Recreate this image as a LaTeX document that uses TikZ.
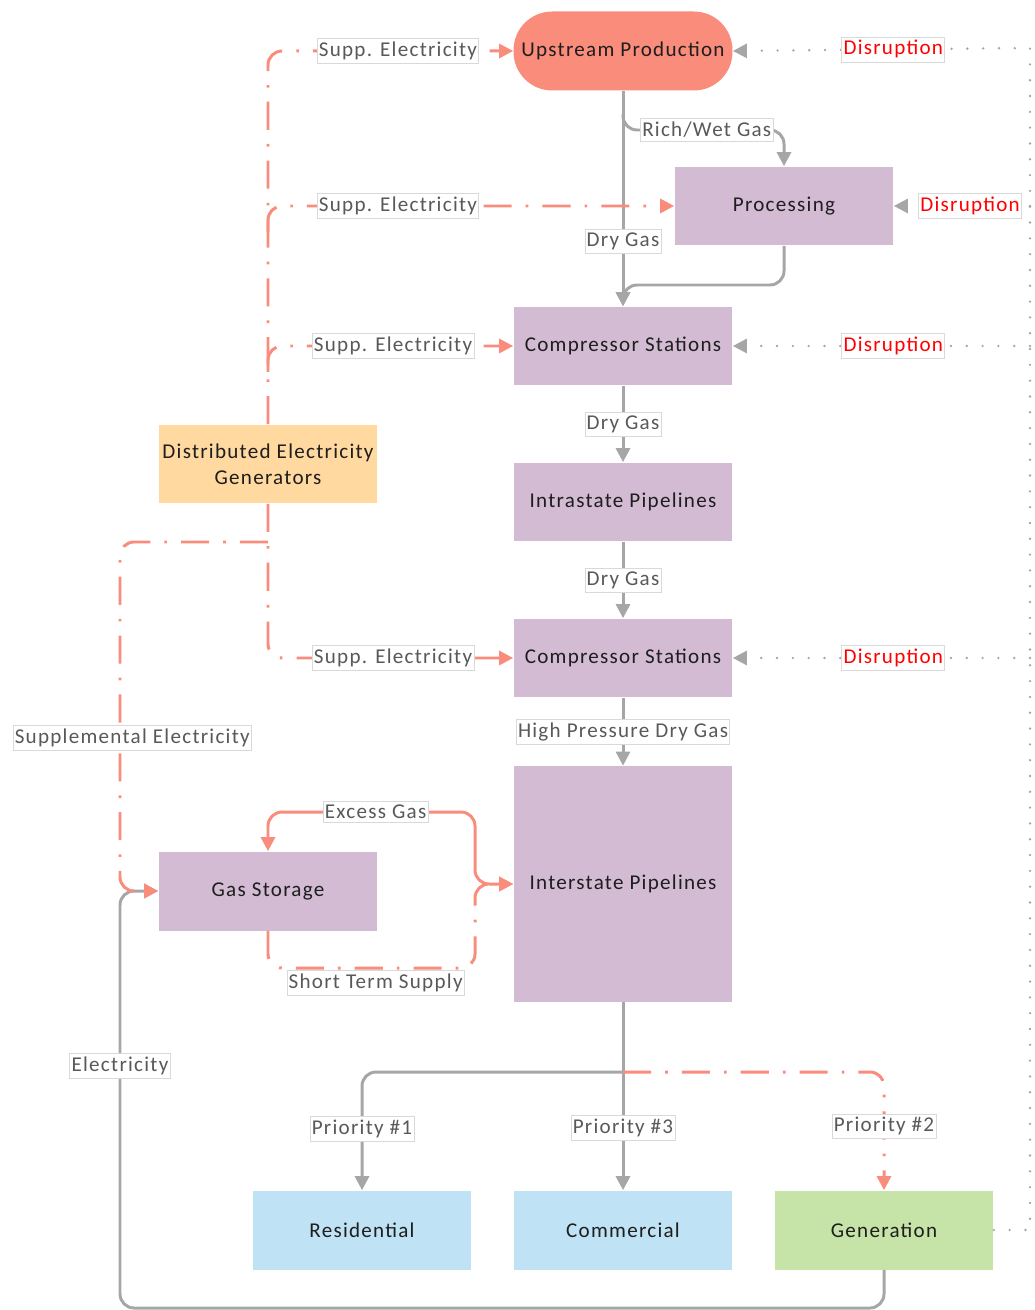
\documentclass[tikz,border=0pt]{standalone}
\usepackage{fontspec}
\setmainfont{Carlito}[LetterSpace=6]
\usetikzlibrary{arrows.meta}
\definecolor{salmon}{HTML}{FA8C7C}
\definecolor{lilac}{HTML}{D3BBD3}
\definecolor{peach}{HTML}{FFD9A0}
\definecolor{sky}{HTML}{C0E2F5}
\definecolor{leaf}{HTML}{C6E4A8}
\definecolor{pipe}{HTML}{A6A6A6}
\definecolor{ink}{HTML}{1E1E1E}
\definecolor{note}{HTML}{595959}

\begin{document}
\begin{tikzpicture}[x=0.02cm, y=-0.02cm,
	every node/.style={font=\fontsize{12}{15}\selectfont, text=ink},
	box/.style={fill=lilac, minimum width=4.38cm, minimum height=1.58cm, inner sep=0pt, align=center},
	pill/.style={box, fill=salmon, rounded corners=22pt},
	lbl/.style={fill=white, draw=gray!30, line width=0.4pt, solid, sharp corners, text=note, inner xsep=1pt, inner ysep=2pt},
	dlbl/.style={lbl, text=red},
	tip/.style={-{Triangle[length=8pt,width=8pt]}},
	gas/.style={draw=pipe, line width=1.7pt, rounded corners=8pt, tip},
	elec/.style={draw=salmon, line width=1.7pt, rounded corners=8pt, dash pattern=on 16pt off 8pt on 1.5pt off 8pt, tip},
	dis/.style={draw=pipe, line width=1.5pt, line cap=round, dash pattern=on 0pt off 9pt, tip}]
	\useasboundingbox (0,0) rectangle (1034,1310);

	% Boxes
	\node[pill] (up) at (623,51) {Upstream Production};
	\node[box] (proc) at (784,206) {Processing};
	\node[box] (cs1) at (623,346) {Compressor Stations};
	\node[box] (intra) at (623,502) {Intrastate Pipelines};
	\node[box] (cs2) at (623,658) {Compressor Stations};
	\node[box, minimum height=4.72cm] (inter) at (623,884) {Interstate Pipelines};
	\node[box, fill=peach] (deg) at (268,464) {Distributed Electricity\\Generators};
	\node[box] (stor) at (268,891) {Gas Storage};
	\node[box, fill=sky] (res) at (362,1230) {Residential};
	\node[box, fill=sky] (com) at (623,1230) {Commercial};
	\node[box, fill=leaf] (gen) at (884,1230) {Generation};

	% Junctions
	\coordinate (wet) at (623,114);
	\coordinate (trunkA) at (268,232);
	\coordinate (trunkB) at (268,372);
	\coordinate (trunkC) at (268,542);
	\coordinate (split) at (623,1072);
	\coordinate (corner) at (120,1308);
	\coordinate (rail) at (1030,48);

	% Gas
	\draw[gas] (up) -- node[lbl, pos=0.7] {Dry Gas} (cs1);
	\draw[gas] (wet) |- node[lbl, pos=0.76] {Rich/Wet Gas} (proc.north |- 0,130) -- (proc.north);
	\draw[gas] (proc.south) |- (cs1.north |- 0,285) -- (cs1.north);
	\draw[gas] (cs1) -- node[lbl] {Dry Gas} (intra);
	\draw[gas] (intra) -- node[lbl] {Dry Gas} (cs2);
	\draw[gas] (cs2) -- node[lbl] {High Pressure Dry Gas} (inter);
	\draw[gas] (inter) -- node[lbl, pos=0.67] {Priority \#3} (com);
	\draw[gas] (split) -| node[lbl, pos=0.74] {Priority \#1} (res.north);
	\draw[elec] (split) -| node[lbl, pos=0.73] {Priority \#2} (gen.north);
	\draw[gas] (gen.south) |- (corner) -- node[lbl, pos=0.58] {Electricity} (corner |- stor.west) -- (stor.west);

	% Storage
	\draw[draw=salmon, line width=1.7pt, rounded corners=8pt, {Triangle[length=8pt,width=8pt]}-{Triangle[length=8pt,width=8pt]}]
		(stor.north) |- node[lbl, pos=0.76] {Excess Gas} (475,812) |- (inter.west);
	\draw[elec] (stor.south) |- node[lbl, pos=0.76, below=1pt] {Short Term Supply} (475,968) |- (inter.west);

	% Electricity
	\draw[elec] (deg.north) |- node[lbl, pos=0.765] {Supp. Electricity} (up.west);
	\draw[elec] (trunkA) |- node[lbl, pos=0.66] {Supp. Electricity} (proc.west);
	\draw[elec] (trunkB) |- node[lbl, pos=0.755] {Supp. Electricity} (cs1.west);
	\draw[elec] (deg.south) |- node[lbl, pos=0.755] {Supp. Electricity} (cs2.west);
	\draw[elec] (trunkC) -| node[lbl, pos=0.78, xshift=7pt] {Supplemental Electricity} (corner |- stor.west) -- (stor.west);

	% Disruptions
	\draw[dis] (gen.east) -| (rail) -- node[dlbl, pos=0.46] {Disruption} (up.east);
	\draw[dis] (rail |- proc.east) -- node[dlbl, pos=0.44] {Disruption} (proc.east);
	\draw[dis] (rail |- cs1.east) -- node[dlbl, pos=0.46] {Disruption} (cs1.east);
	\draw[dis] (rail |- cs2.east) -- node[dlbl, pos=0.46] {Disruption} (cs2.east);
\end{tikzpicture}
\end{document}
